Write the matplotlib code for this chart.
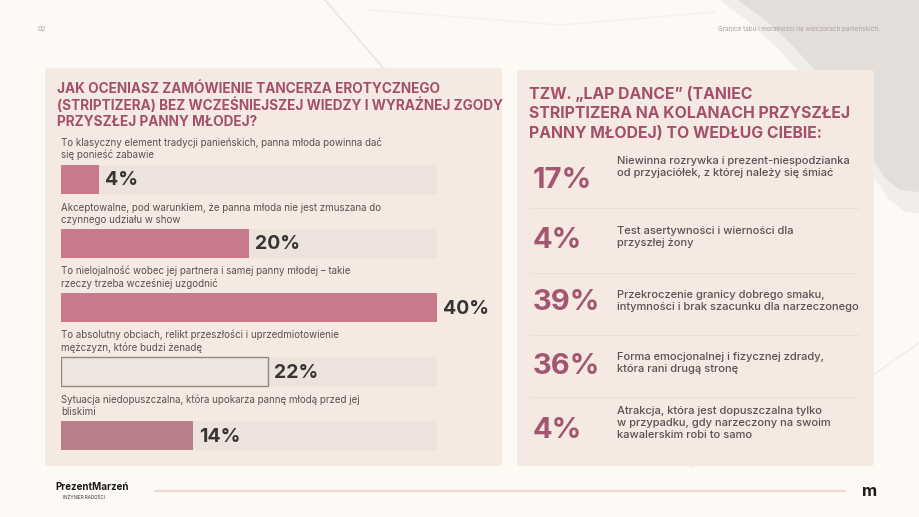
import matplotlib.pyplot as plt
from matplotlib.patches import FancyBboxPatch, Polygon
import numpy as np

plt.rcParams['font.family'] = ['Inter', 'DejaVu Sans']

# left chart data
answers = [
    'To klasyczny element tradycji panieńskich, panna młoda powinna dać\nsię ponieść zabawie',
    'Akceptowalne, pod warunkiem, że panna młoda nie jest zmuszana do\nczynnego udziału w show',
    'To nielojalność wobec jej partnera i samej panny młodej – takie\nrzeczy trzeba wcześniej uzgodnić',
    'To absolutny obciach, relikt przeszłości i uprzedmiotowienie\nmężczyzn, które budzi żenadę',
    'Sytuacja niedopuszczalna, która upokarza pannę młodą przed jej\nbliskimi',
]
shares = [4, 20, 40, 22, 14]

# right list data
lap_shares = [17, 4, 39, 36, 4]
lap_answers = [
    'Niewinna rozrywka i prezent-niespodzianka\nod przyjaciółek, z której należy się śmiać',
    'Test asertywności i wierności dla\nprzyszłej żony',
    'Przekroczenie granicy dobrego smaku,\nintymności i brak szacunku dla narzeczonego',
    'Forma emocjonalnej i fizycznej zdrady,\nktóra rani drugą stronę',
    'Atrakcja, która jest dopuszczalna tylko\nw przypadku, gdy narzeczony na swoim\nkawalerskim robi to samo',
]

left_title = 'JAK OCENIASZ ZAMÓWIENIE TANCERZA EROTYCZNEGO\n(STRIPTIZERA) BEZ WCZEŚNIEJSZEJ WIEDZY I WYRAŹNEJ ZGODY\nPRZYSZŁEJ PANNY MŁODEJ?'
right_title = 'TZW. „LAP DANCE” (TANIEC\nSTRIPTIZERA NA KOLANACH PRZYSZŁEJ\nPANNY MŁODEJ) TO WEDŁUG CIEBIE:'

W, H = 919, 517
bg = '#FDF9F5'
panel = '#F4EAE1'
track = '#EDE3DC'
rose = '#A4506B'
bar_colors = ['#C87A8C', '#C87A8C', '#C87A8C', '#EFE6DF', '#B87F88']

fig = plt.figure(figsize=(W / 100, H / 100), dpi=100, facecolor=bg)
ax0 = fig.add_axes([0, 0, 1, 1])
ax0.set_xlim(0, W)
ax0.set_ylim(H, 0)
ax0.axis('off')

# background decoration
edge = [[738, 0], [765, 20], [790, 43], [815, 70], [840, 100], [858, 130], [872, 158],
        [885, 178], [900, 190], [919, 192]]
ax0.add_patch(Polygon([[719, 0]] + [[x - 18 + 0.12 * (y), y + 22 * (y / 192)] for x, y in edge]
                      + [[919, 218], [919, 0]], closed=True, color='#F1EDE9', lw=0, zorder=0))
ax0.add_patch(Polygon(edge + [[919, 0]], closed=True, color='#E3DEDA', lw=0, zorder=0))
ax0.plot([325, 385], [0, 70], color='#ECE6E0', lw=1.2, zorder=0)
ax0.plot([370, 560, 715], [10, 25, 12], color='#F7F2EE', lw=1.2, zorder=0)
ax0.plot([690, 780, 919], [467, 440, 343], color='#F3EDE7', lw=1.2, zorder=0)

# panels
ax0.add_patch(FancyBboxPatch((45, 68), 457, 398, boxstyle='round,pad=0,rounding_size=3',
                             fc=panel, ec='none', zorder=1))
ax0.add_patch(FancyBboxPatch((517, 70), 357, 396, boxstyle='round,pad=0,rounding_size=3',
                             fc=panel, ec='none', zorder=1))

# header
ax0.text(38, 29, '02', fontsize=5, color='#A9A19D', va='center')
ax0.text(880, 29, 'Granice tabu i moralności na wieczorach panieńskich.', fontsize=4.6,
         color='#A9A19D', va='center', ha='right')

# titles
ax0.text(57, 82, left_title, fontsize=9.8, fontweight='bold', color=rose, va='top',
         linespacing=1.12, zorder=3)
ax0.text(529, 86, right_title, fontsize=11.4, fontweight='bold', color=rose, va='top',
         linespacing=1.36, zorder=3)

# right list
pct_y = [180, 241, 303, 366, 430]
txt_y = [167, 236.5, 300.5, 362.5, 423]
for i in range(len(lap_shares)):
    ax0.text(533, pct_y[i], f'{lap_shares[i]}%', fontsize=21, fontweight='bold', color='#A45570',
             va='center', zorder=3)
    ax0.text(617, txt_y[i], lap_answers[i], fontsize=8,
             fontweight='medium', color='#5E4F55', va='center', linespacing=1.25, zorder=3)
for y in [208, 273, 335, 397]:
    ax0.plot([529, 858], [y, y], color='#EBDFD6', lw=0.8, zorder=2)

# footer
ax0.plot([155, 845], [491, 491], color='#EFD8D8', lw=1.5)
ax0.text(55, 487, 'PrezentMarzeń', fontsize=7, fontweight='bold', color='#1E1A1A',
         va='center', fontstretch='condensed')
ax0.text(63, 497, 'INŻYNIER RADOŚCI', fontsize=3.3, color='#3A3333', va='center')
ax0.text(870, 492, 'm', fontsize=12, fontweight='bold', color='#1E1A1A', va='center', ha='center')

# bar chart axes: x 61..437 px, y from 121.4 to 467.5 px
x0, x1 = 61, 437
ytop, ybot = 121.4, 467.5
ax = fig.add_axes([x0 / W, 1 - ybot / H, (x1 - x0) / W, (ybot - ytop) / H])
ax.set_facecolor('none')
ax.set_xlim(0, 40)
ax.set_ylim(4.5, -0.9)
ax.axis('off')

pos = np.arange(len(shares))
ax.barh(pos, [40] * len(shares), height=0.45, color=track, zorder=1)
bars = ax.barh(pos, shares, height=0.45, color=bar_colors, zorder=2)
bars[3].set_edgecolor('#8F8784')
bars[3].set_linewidth(1.0)

for i, v in enumerate(shares):
    ax.text(v + 0.65, i + 0.02, f'{v}%', fontsize=14, fontweight='bold', color='#3A3335',
            va='center', zorder=3, clip_on=False)
    ax.text(0, i - 0.29, answers[i], fontsize=7, color='#5A5052', va='bottom',
            linespacing=1.25, zorder=3, clip_on=False)

fig.savefig('out.png', dpi=100, facecolor=bg)
